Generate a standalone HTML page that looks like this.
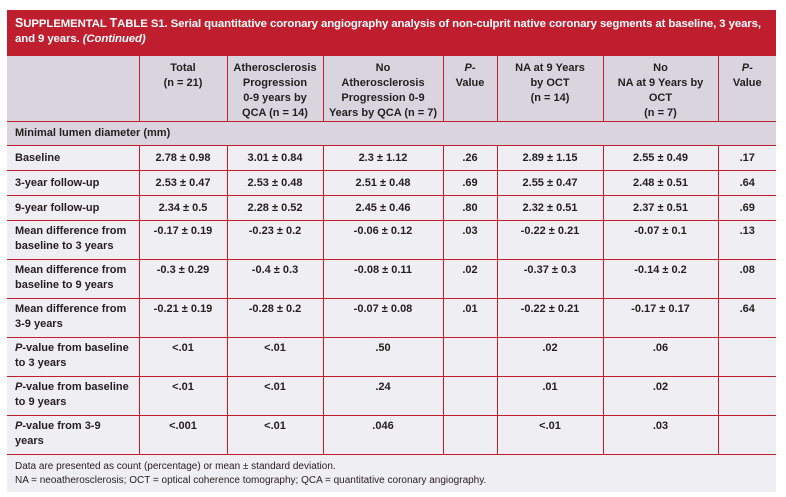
<!DOCTYPE html>
<html><head><meta charset="utf-8"><style>
body{margin:0;background:#fff;width:786px;height:497px;overflow:hidden;font-family:"Liberation Sans",sans-serif;color:#231f20}
#wrap{position:absolute;left:7px;top:10px;width:769px;}
#title{background:#be1e2d;color:#fff;height:45px;box-sizing:border-box;padding:6px 8px 0 8px;font-weight:bold;font-size:11.4px;line-height:15px;letter-spacing:-0.1px;white-space:nowrap}
#title .sc{font-size:12.5px}
table{border-collapse:collapse;table-layout:fixed;width:769px}
td{border:1px solid #be1e2d;font-weight:bold;font-size:11px;line-height:15px;vertical-align:top;text-align:center;padding:0;background:#efeef3}
tr.h td{background:#d9d4de;height:60px;padding-top:5px;vertical-align:top}
td.l{text-align:left;padding-left:8px}
td.first{border-left:none}
td.last{border-right:none}
tr.sec td{background:#d9d4de;height:23px;vertical-align:middle;text-align:left;padding-left:8px;border-left:none;border-right:none}
tr.r1 td{height:24px;vertical-align:middle}
tr.r2 td{height:35px;padding-top:3px}
#foot{background:#efeef3;height:37px;padding:5px 0 0 8px;box-sizing:border-box;font-size:10px;line-height:14px}
i{font-style:italic}
</style></head><body>
<div id="wrap">
<div id="title"><span class="sc">S</span>UPPLEMENTAL <span class="sc">T</span>ABLE S1. Serial quantitative coronary angiography analysis of non-culprit native coronary segments at baseline, 3 years,<br>and 9 years. <i>(Continued)</i></div>
<table>
<colgroup><col style="width:132px"><col style="width:88px"><col style="width:96px"><col style="width:120px"><col style="width:54px"><col style="width:106px"><col style="width:115px"><col style="width:58px"></colgroup>
<tr class="h"><td class="first"></td><td>Total<br>(n = 21)</td><td>Atherosclerosis<br>Progression<br>0-9 years by<br>QCA (n = 14)</td><td>No<br>Atherosclerosis<br>Progression 0-9<br>Years by QCA (n = 7)</td><td><i>P</i>-<br>Value</td><td>NA at 9 Years<br>by OCT<br>(n = 14)</td><td>No<br>NA at 9 Years by<br>OCT<br>(n = 7)</td><td class="last"><i>P</i>-<br>Value</td></tr>
<tr class="sec"><td colspan="8">Minimal lumen diameter (mm)</td></tr>
<tr class="r1"><td class="l first">Baseline</td><td>2.78 ± 0.98</td><td>3.01 ± 0.84</td><td>2.3 ± 1.12</td><td>.26</td><td>2.89 ± 1.15</td><td>2.55 ± 0.49</td><td class="last">.17</td></tr>
<tr class="r1"><td class="l first">3-year follow-up</td><td>2.53 ± 0.47</td><td>2.53 ± 0.48</td><td>2.51 ± 0.48</td><td>.69</td><td>2.55 ± 0.47</td><td>2.48 ± 0.51</td><td class="last">.64</td></tr>
<tr class="r1"><td class="l first">9-year follow-up</td><td>2.34 ± 0.5</td><td>2.28 ± 0.52</td><td>2.45 ± 0.46</td><td>.80</td><td>2.32 ± 0.51</td><td>2.37 ± 0.51</td><td class="last">.69</td></tr>
<tr class="r2"><td class="l first">Mean difference from<br>baseline to 3 years</td><td>-0.17 ± 0.19</td><td>-0.23 ± 0.2</td><td>-0.06 ± 0.12</td><td>.03</td><td>-0.22 ± 0.21</td><td>-0.07 ± 0.1</td><td class="last">.13</td></tr>
<tr class="r2"><td class="l first">Mean difference from<br>baseline to 9 years</td><td>-0.3 ± 0.29</td><td>-0.4 ± 0.3</td><td>-0.08 ± 0.11</td><td>.02</td><td>-0.37 ± 0.3</td><td>-0.14 ± 0.2</td><td class="last">.08</td></tr>
<tr class="r2"><td class="l first">Mean difference from<br>3-9 years</td><td>-0.21 ± 0.19</td><td>-0.28 ± 0.2</td><td>-0.07 ± 0.08</td><td>.01</td><td>-0.22 ± 0.21</td><td>-0.17 ± 0.17</td><td class="last">.64</td></tr>
<tr class="r2"><td class="l first"><i>P</i>-value from baseline<br>to 3 years</td><td>&lt;.01</td><td>&lt;.01</td><td>.50</td><td></td><td>.02</td><td>.06</td><td class="last"></td></tr>
<tr class="r2"><td class="l first"><i>P</i>-value from baseline<br>to 9 years</td><td>&lt;.01</td><td>&lt;.01</td><td>.24</td><td></td><td>.01</td><td>.02</td><td class="last"></td></tr>
<tr class="r2"><td class="l first"><i>P</i>-value from 3-9<br>years</td><td>&lt;.001</td><td>&lt;.01</td><td>.046</td><td></td><td>&lt;.01</td><td>.03</td><td class="last"></td></tr>
</table>
<div id="foot">Data are presented as count (percentage) or mean ± standard deviation.<br>NA = neoatherosclerosis; OCT = optical coherence tomography; QCA = quantitative coronary angiography.</div>
</div>
</body></html>
